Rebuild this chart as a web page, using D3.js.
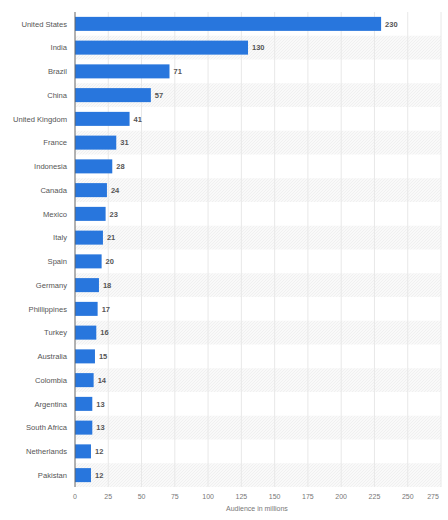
<!DOCTYPE html>
<html>
<head>
<meta charset="utf-8">
<script src="https://cdn.jsdelivr.net/npm/d3@7"></script>
<style>
  body { margin: 0; background: #fff; }
  svg { font-family: "Liberation Sans", Arial, sans-serif; }
</style>
</head>
<body>
<svg id="chart" width="448" height="520"></svg>
<script>
// countries and audience (millions)
var countries = ["United States", "India", "Brazil", "China", "United Kingdom", "France",
  "Indonesia", "Canada", "Mexico", "Italy", "Spain", "Germany", "Phillippines", "Turkey",
  "Australia", "Colombia", "Argentina", "South Africa", "Netherlands", "Pakistan"];
var audience = [230, 130, 71, 57, 41, 31, 28, 24, 23, 21, 20, 18, 17, 16, 15, 14, 13, 13, 12, 12];
var xTicks = [0, 25, 50, 75, 100, 125, 150, 175, 200, 225, 250, 275];
var axisTitle = "Audience in millions";

var margin = { top: 12, right: 7, bottom: 33, left: 75 };
var width = 448 - margin.left - margin.right;
var height = 520 - margin.top - margin.bottom;

var svg = d3.select("#chart");

// hatched pattern for alternate rows
var defs = svg.append("defs");
var pat = defs.append("pattern")
  .attr("id", "hatch")
  .attr("width", 3)
  .attr("height", 3)
  .attr("patternUnits", "userSpaceOnUse");
pat.append("rect").attr("width", 3).attr("height", 3).attr("fill", "#f9f9f9");
pat.append("path").attr("d", "M0,3 L3,0").attr("stroke", "#eeeeee").attr("stroke-width", 0.8);

var g = svg.append("g").attr("transform", "translate(" + margin.left + "," + margin.top + ")");

var x = d3.scaleLinear().domain([0, 275]).range([0, width]);
var y = d3.scaleBand().domain(countries).range([0, height]).paddingInner(0.41).paddingOuter(0.205);
var row = d3.scaleBand().domain(countries).range([0, height]);

// striped background rows
g.selectAll(".stripe")
  .data(countries.filter(function (d, i) { return i % 2 === 1; }))
  .enter().append("rect")
  .attr("x", 0)
  .attr("y", function (d) { return row(d); })
  .attr("width", width)
  .attr("height", row.bandwidth())
  .attr("fill", "url(#hatch)");

// vertical gridlines
g.selectAll(".grid")
  .data(xTicks.slice(1))
  .enter().append("line")
  .attr("x1", function (d) { return x(d); })
  .attr("x2", function (d) { return x(d); })
  .attr("y1", 0)
  .attr("y2", height)
  .attr("stroke", "#e8e8e8")
  .attr("stroke-width", 1);

// bars
g.selectAll(".bar")
  .data(countries)
  .enter().append("rect")
  .attr("x", 0)
  .attr("y", function (d) { return y(d); })
  .attr("width", function (d, i) { return x(audience[i]); })
  .attr("height", y.bandwidth())
  .attr("fill", "#2876dd");

// value labels
g.selectAll(".val")
  .data(countries)
  .enter().append("text")
  .attr("x", function (d, i) { return x(audience[i]) + 4; })
  .attr("y", function (d) { return y(d) + y.bandwidth() / 2; })
  .attr("dy", "0.35em")
  .attr("font-size", 7.5)
  .attr("font-weight", "bold")
  .attr("fill", "#555")
  .text(function (d, i) { return audience[i]; });

// category labels
g.selectAll(".cat")
  .data(countries)
  .enter().append("text")
  .attr("x", -8)
  .attr("y", function (d) { return y(d) + y.bandwidth() / 2; })
  .attr("dy", "0.35em")
  .attr("text-anchor", "end")
  .attr("font-size", 7.6)
  .attr("fill", "#555")
  .text(function (d) { return d; });

// y axis line
g.append("line")
  .attr("x1", 0).attr("x2", 0)
  .attr("y1", 0).attr("y2", height)
  .attr("stroke", "#666")
  .attr("stroke-width", 1);

// x tick labels
g.selectAll(".tick")
  .data(xTicks)
  .enter().append("text")
  .attr("x", function (d) { return d === 275 ? x(d) - 8 : x(d); })
  .attr("y", height + 12)
  .attr("text-anchor", "middle")
  .attr("font-size", 7)
  .attr("fill", "#777")
  .text(function (d) { return d; });

// axis title
g.append("text")
  .attr("x", x(0) + 151)
  .attr("y", height + 24)
  .attr("font-size", 7)
  .attr("fill", "#777")
  .text(axisTitle);
</script>
</body>
</html>
